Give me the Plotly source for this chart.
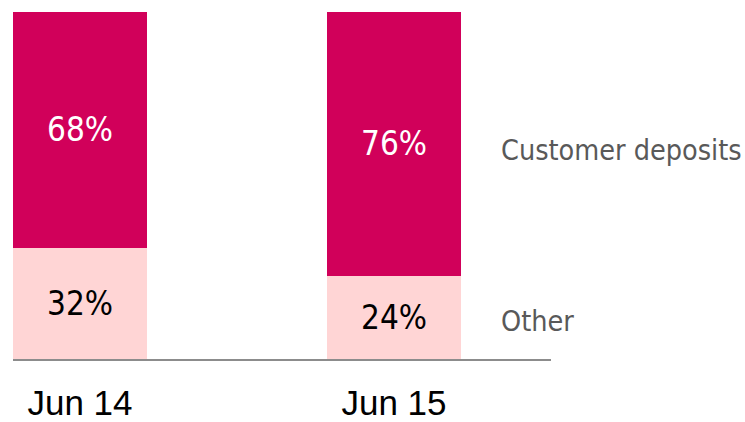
import plotly.graph_objects as go

# Funding mix by period (share of total, %)
periods = ["Jun 14", "Jun 15"]
other = [32, 24]
customer_deposits = [68, 76]
series_names = ["Other", "Customer deposits"]

DARK = "#D1005A"
LIGHT = "#FFD5D5"
LABEL_GREY = "#595959"
PCT_FONT = "DejaVu Sans Condensed, DejaVu Sans, sans-serif"

x_pos = list(range(len(periods)))
bar_w = 0.427

fig = go.Figure()
fig.add_trace(go.Bar(
    x=x_pos, y=other, name=series_names[0], width=bar_w,
    marker=dict(color=LIGHT, line=dict(width=0)),
    text=[f"{v}%" for v in other], textposition="inside",
    insidetextanchor="middle", textangle=0,
    textfont=dict(family=PCT_FONT, size=33, color="black"),
))
fig.add_trace(go.Bar(
    x=x_pos, y=customer_deposits, name=series_names[1], width=bar_w,
    marker=dict(color=DARK, line=dict(width=0)),
    text=[f"{v}%" for v in customer_deposits], textposition="inside",
    insidetextanchor="middle", textangle=0,
    textfont=dict(family=PCT_FONT, size=33, color="white"),
))

# Series labels to the right of the last bar
fig.add_annotation(x=1.335, y=10.7, text=series_names[0],
                   xanchor="left", yanchor="middle", showarrow=False,
                   font=dict(family="DejaVu Sans Condensed, DejaVu Sans", size=28.5, color=LABEL_GREY))
fig.add_annotation(x=1.335, y=60.2, text=series_names[1],
                   xanchor="left", yanchor="middle", showarrow=False,
                   font=dict(family="DejaVu Sans Condensed, DejaVu Sans", size=28.5, color=LABEL_GREY))

fig.update_layout(
    barmode="stack",
    width=745, height=422,
    margin=dict(l=13, r=194, t=12, b=63),
    paper_bgcolor="white", plot_bgcolor="white",
    showlegend=False,
    xaxis=dict(
        range=[-0.2134, 1.5], tickvals=x_pos, ticktext=periods,
        showgrid=False, zeroline=False, automargin=False,
        showline=True, linecolor="#8C8C8C", linewidth=2,
        ticks="outside", ticklen=12, tickcolor="rgba(0,0,0,0)",
        tickfont=dict(family="Liberation Sans, Arial, sans-serif", size=35, color="black"),
    ),
    yaxis=dict(range=[0, 100], visible=False, automargin=False),
)

fig.write_html("out.html")
